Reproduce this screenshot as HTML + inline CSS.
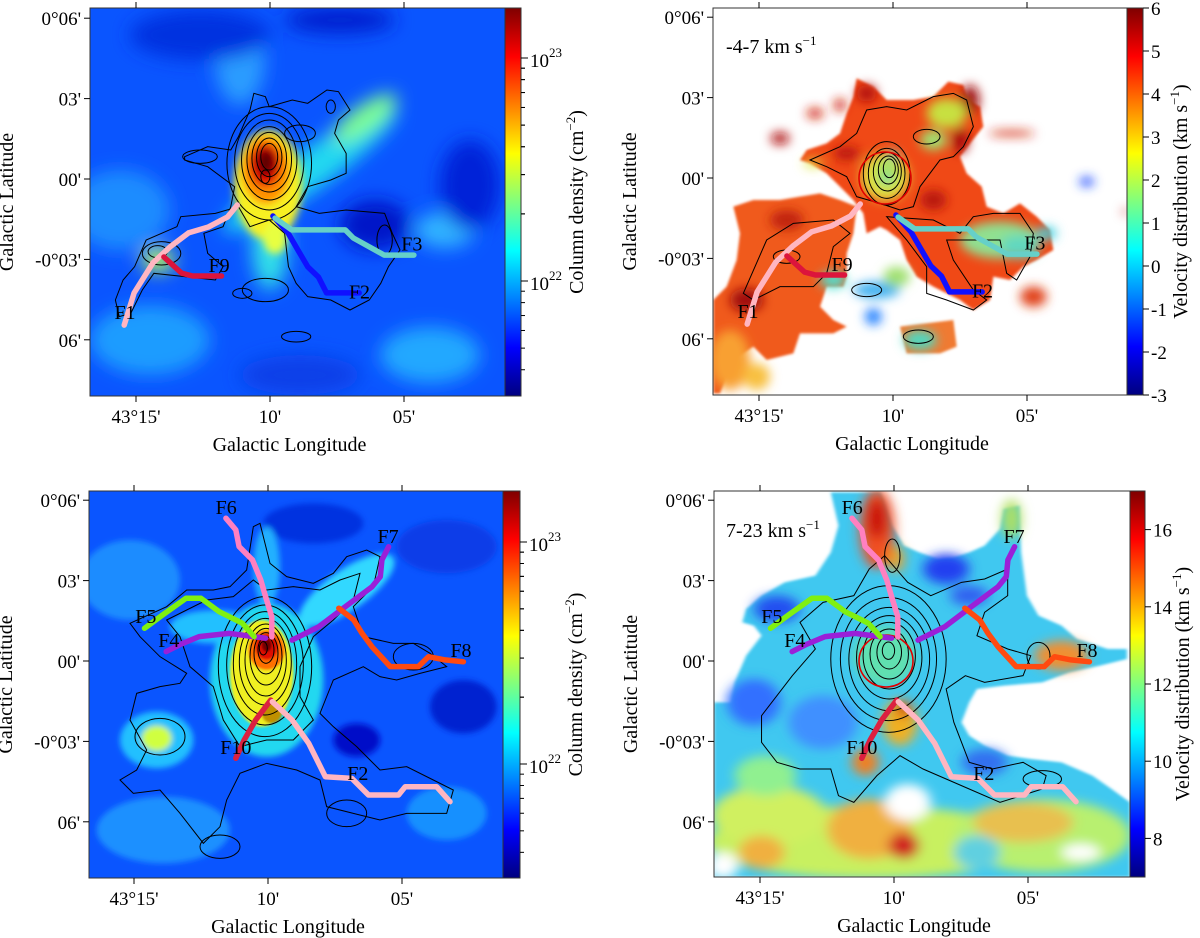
<!DOCTYPE html>
<html><head><meta charset="utf-8">
<style>
html,body{margin:0;padding:0;background:#fff;}
svg{display:block;font-family:"Liberation Serif","DejaVu Serif",serif;}
</style></head>
<body>
<svg id="fig" width="1200" height="938" viewBox="0 0 1200 938" xmlns="http://www.w3.org/2000/svg">
<defs>
  <linearGradient id="jet" x1="0" y1="1" x2="0" y2="0">
    <stop offset="0" stop-color="#00007f"/><stop offset="0.125" stop-color="#0000ff"/>
    <stop offset="0.375" stop-color="#00ffff"/><stop offset="0.5" stop-color="#7fff7f"/>
    <stop offset="0.625" stop-color="#ffff00"/><stop offset="0.875" stop-color="#ff0000"/>
    <stop offset="1" stop-color="#7f0000"/>
  </linearGradient>
  <filter id="blurA" x="-50%" y="-50%" width="200%" height="200%"><feGaussianBlur stdDeviation="9"/></filter>
  <filter id="blurB" x="-50%" y="-50%" width="200%" height="200%"><feGaussianBlur stdDeviation="4"/></filter>
  <filter id="blurC" x="-50%" y="-50%" width="200%" height="200%"><feGaussianBlur stdDeviation="4"/></filter>
  <filter id="blurD" x="-50%" y="-50%" width="200%" height="200%"><feGaussianBlur stdDeviation="16"/></filter>
  <clipPath id="c1"><rect x="90" y="8" width="415" height="388"/></clipPath>
  <clipPath id="c2"><rect x="713" y="8" width="414" height="387"/></clipPath>
  <clipPath id="c3"><rect x="89" y="491" width="414" height="387"/></clipPath>
  <clipPath id="c4"><rect x="714" y="491" width="416" height="386"/></clipPath>
</defs>

<g clip-path="url(#c1)">
  <rect x="90" y="8" width="415" height="388" fill="#0a55ff"/>
  <g filter="url(#blurA)">
    <ellipse cx="240" cy="60" rx="25" ry="45" fill="#2a9cff"/>
    <ellipse cx="120" cy="210" rx="50" ry="40" fill="#1e8cff"/>
    <ellipse cx="150" cy="340" rx="60" ry="35" fill="#1a9cff"/>
    <ellipse cx="430" cy="355" rx="50" ry="28" fill="#22a8ff"/>
    <ellipse cx="445" cy="230" rx="30" ry="18" fill="#30b4ff"/>
    <ellipse cx="375" cy="225" rx="35" ry="25" fill="#0018c8"/>
    <ellipse cx="470" cy="185" rx="30" ry="45" fill="#0020d8"/>
    <ellipse cx="200" cy="35" rx="70" ry="25" fill="#0030e0"/>
    <ellipse cx="340" cy="20" rx="55" ry="14" fill="#0020d0"/>
    <ellipse cx="300" cy="375" rx="60" ry="20" fill="#0a40e8"/>
    <ellipse cx="310" cy="170" rx="105" ry="20" fill="#20d8f0" transform="rotate(-35 310 170)"/>
    <ellipse cx="365" cy="118" rx="38" ry="13" fill="#80ff90" transform="rotate(-35 365 118)"/>
    <ellipse cx="270" cy="245" rx="18" ry="45" fill="#30e0e8"/>
    <ellipse cx="158" cy="260" rx="16" ry="12" fill="#c0ff50"/>
  </g>
  <g filter="url(#blurB)">
    <ellipse cx="268" cy="185" rx="34" ry="55" fill="#f8f020"/>
    <ellipse cx="275" cy="238" rx="12" ry="16" fill="#e8ff40"/>
    <ellipse cx="266" cy="170" rx="24" ry="34" fill="#ff9000"/>
    <ellipse cx="265" cy="165" rx="16" ry="22" fill="#e01000"/>
    <ellipse cx="266" cy="162" rx="9" ry="13" fill="#600000"/>
  </g>
</g>

<g clip-path="url(#c2)">
  <rect x="713" y="8" width="414" height="387" fill="#ffffff"/>
  <g transform="translate(700,0) scale(0.3333333)">
    <g filter="url(#blurC)">
    <path d="M470,235 L520,260 L560,300 L640,300 L700,290 L745,245 L790,255 L805,300 L840,320 L850,380 L810,430 L780,470 L800,520 L845,560 L860,620 L910,640 L960,610 L1010,650 L1050,690 L1060,750 L1010,780 L970,800 L930,840 L880,830 L870,900 L820,930 L780,900 L740,880 L700,860 L650,830 L620,780 L600,720 L560,690 L540,680 L500,700 L490,640 L460,600 L420,560 L380,520 L330,490 L300,480 L320,450 L380,430 L420,400 L440,340 L460,290 Z" fill="#f04a16"/>
    <path d="M100,620 L160,600 L240,600 L300,590 L360,580 L420,600 L470,620 L460,700 L440,760 L440,830 L430,860 L380,860 L360,920 L400,960 L440,980 L400,1000 L300,1000 L280,1060 L200,1080 L160,1040 L100,1080 L60,1180 L40,1180 L40,900 L80,860 L110,780 L120,700 Z" fill="#f05a1c"/>
    <path d="M600,980 L760,960 L770,1040 L720,1060 L620,1060 Z" fill="#f07a30"/>
    </g>
    <g filter="url(#blurD)">
    <ellipse cx="240" cy="415" rx="28" ry="18" fill="#b01010"/>
    <ellipse cx="345" cy="340" rx="25" ry="15" fill="#d02010"/>
    <ellipse cx="420" cy="315" rx="18" ry="18" fill="#d02010"/>
    <ellipse cx="935" cy="400" rx="70" ry="8" fill="#d02010"/>
    <ellipse cx="810" cy="300" rx="28" ry="45" fill="#a01010"/>
    <ellipse cx="780" cy="420" rx="25" ry="40" fill="#a81010"/>
    <ellipse cx="500" cy="280" rx="30" ry="25" fill="#b01010"/>
    <ellipse cx="440" cy="460" rx="40" ry="20" fill="#b81810"/>
    <ellipse cx="700" cy="600" rx="40" ry="30" fill="#b81810"/>
    <ellipse cx="260" cy="660" rx="50" ry="30" fill="#c02010"/>
    <ellipse cx="140" cy="900" rx="50" ry="35" fill="#a01010"/>
    <ellipse cx="1010" cy="890" rx="25" ry="20" fill="#a01010"/>
    <ellipse cx="1000" cy="890" rx="40" ry="30" fill="#e04018"/>
    <ellipse cx="90" cy="1080" rx="60" ry="90" fill="#f8a030"/>
    <ellipse cx="740" cy="340" rx="60" ry="45" fill="#c8e040"/>
    <ellipse cx="700" cy="420" rx="40" ry="30" fill="#a0e070"/>
    <ellipse cx="555" cy="530" rx="72" ry="72" fill="#e0e040"/>
    <ellipse cx="560" cy="520" rx="35" ry="45" fill="#a8e060"/>
    <ellipse cx="580" cy="465" rx="14" ry="14" fill="#50e0d0"/>
    <ellipse cx="560" cy="535" rx="14" ry="12" fill="#60e0c0"/>
    <ellipse cx="340" cy="490" rx="30" ry="12" fill="#e0e840"/>
    <ellipse cx="900" cy="720" rx="120" ry="55" fill="#90e090"/>
    <ellipse cx="960" cy="740" rx="60" ry="35" fill="#60d8c0"/>
    <ellipse cx="1040" cy="700" rx="30" ry="20" fill="#40d0e0"/>
    <ellipse cx="400" cy="840" rx="40" ry="25" fill="#50e0d0"/>
    <ellipse cx="530" cy="870" rx="70" ry="25" fill="#40b0f0"/>
    <ellipse cx="590" cy="830" rx="40" ry="30" fill="#a0e070"/>
    <ellipse cx="520" cy="950" rx="25" ry="25" fill="#2080ff"/>
    <ellipse cx="660" cy="1020" rx="50" ry="30" fill="#50d8c0"/>
    <ellipse cx="1160" cy="545" rx="22" ry="14" fill="#2050ff"/>
    <ellipse cx="1275" cy="635" rx="6" ry="10" fill="#c02010"/>
    <ellipse cx="170" cy="1130" rx="40" ry="40" fill="#f8c040"/>
    </g>
  </g>
</g>

<g clip-path="url(#c3)">
  <rect x="89" y="491" width="414" height="387" fill="#0a55ff"/>
  <g transform="translate(80,480) scale(0.3333333)">
    <g filter="url(#blurA)">
    <ellipse cx="150" cy="300" rx="150" ry="120" fill="#1a8cff"/>
    <ellipse cx="250" cy="1050" rx="200" ry="100" fill="#1a90ff"/>
    <ellipse cx="830" cy="780" rx="70" ry="50" fill="#0010c8"/>
    <ellipse cx="1150" cy="680" rx="100" ry="80" fill="#0020d0"/>
    <ellipse cx="1100" cy="200" rx="150" ry="80" fill="#0a3ce8"/>
    <ellipse cx="700" cy="130" rx="150" ry="60" fill="#0030e0"/>
    <ellipse cx="1100" cy="1000" rx="120" ry="80" fill="#1890ff"/>
    <ellipse cx="230" cy="780" rx="110" ry="85" fill="#20c0ff"/>
    <ellipse cx="230" cy="775" rx="45" ry="38" fill="#d0ff40"/>
    <ellipse cx="560" cy="600" rx="170" ry="230" fill="#20d8f0"/>
    <ellipse cx="800" cy="330" rx="170" ry="60" fill="#30d8ff" transform="rotate(-35 800 330)"/>
    <ellipse cx="400" cy="440" rx="130" ry="50" fill="#20c0ff"/>
    <ellipse cx="560" cy="260" rx="40" ry="120" fill="#20b0ff"/>
    </g>
    <g filter="url(#blurB)">
    <ellipse cx="545" cy="580" rx="95" ry="160" fill="#f0f020"/>
    <ellipse cx="560" cy="510" rx="55" ry="60" fill="#ff7000"/>
    <ellipse cx="560" cy="500" rx="35" ry="40" fill="#e01000"/>
    <ellipse cx="560" cy="495" rx="15" ry="20" fill="#700000"/>
    <ellipse cx="575" cy="700" rx="30" ry="30" fill="#c09000"/>
    </g>
  </g>
</g>

<g clip-path="url(#c4)">
  <rect x="714" y="491" width="416" height="386" fill="#ffffff"/>
  <g transform="translate(600,469) scale(0.3846154,0.3333333)">
    <g filter="url(#blurC)">
    <path d="M600,70 L730,70 L760,170 L790,230 L830,250 L880,270 L920,265 L960,250 L1000,230 L1040,180 L1050,120 L1090,110 L1095,250 L1110,380 L1140,440 L1200,470 L1240,510 L1320,540 L1370,540 L1370,570 L1300,590 L1220,610 L1150,640 L1050,650 L980,660 L960,700 L940,760 L960,800 L1000,830 L1060,860 L1120,870 L1200,880 L1280,920 L1330,960 L1378,1000 L1378,1224 L296,1224 L296,700 L340,700 L350,640 L380,560 L420,500 L400,470 L370,460 L380,420 L420,380 L480,340 L560,320 L600,250 L620,170 Z" fill="#40c8f0"/>
    </g>
    <g filter="url(#blurD)">
    <ellipse cx="460" cy="420" rx="60" ry="40" fill="#2050f0"/>
    <ellipse cx="900" cy="300" rx="60" ry="45" fill="#2040f0"/>
    <ellipse cx="960" cy="380" rx="50" ry="30" fill="#3060f0"/>
    <ellipse cx="400" cy="700" rx="70" ry="70" fill="#3070ff"/>
    <ellipse cx="580" cy="760" rx="90" ry="80" fill="#4090ff"/>
    <ellipse cx="1000" cy="880" rx="60" ry="40" fill="#3070f0"/>
    <ellipse cx="740" cy="560" rx="80" ry="90" fill="#60e0b0"/>
    <ellipse cx="700" cy="1120" rx="420" ry="110" fill="#c8f060"/>
    <ellipse cx="1150" cy="1100" rx="230" ry="110" fill="#b8f070"/>
    <ellipse cx="440" cy="1040" rx="150" ry="90" fill="#d0f060"/>
    <ellipse cx="700" cy="1080" rx="110" ry="90" fill="#f0b040"/>
    <ellipse cx="1100" cy="1060" rx="130" ry="60" fill="#e8c050"/>
    <ellipse cx="420" cy="1150" rx="60" ry="50" fill="#f0b040"/>
    <ellipse cx="980" cy="1150" rx="60" ry="50" fill="#60d0e0"/>
    <ellipse cx="430" cy="920" rx="80" ry="60" fill="#90f090"/>
    <ellipse cx="720" cy="180" rx="45" ry="120" fill="#f05020"/>
    <ellipse cx="720" cy="150" rx="25" ry="60" fill="#c81010"/>
    <ellipse cx="770" cy="270" rx="20" ry="40" fill="#f0a020"/>
    <ellipse cx="1200" cy="560" rx="70" ry="45" fill="#f09030"/>
    <ellipse cx="1070" cy="150" rx="25" ry="60" fill="#b0e060"/>
    <ellipse cx="780" cy="760" rx="45" ry="70" fill="#f0b020"/>
    <ellipse cx="790" cy="720" rx="20" ry="25" fill="#d04010"/>
    <ellipse cx="690" cy="880" rx="35" ry="40" fill="#f08020"/>
    <ellipse cx="790" cy="1130" rx="40" ry="40" fill="#d02020"/>
    <ellipse cx="800" cy="1000" rx="60" ry="55" fill="#ffffff"/>
    <ellipse cx="320" cy="1190" rx="40" ry="40" fill="#ffffff"/>
    <ellipse cx="1250" cy="1150" rx="50" ry="25" fill="#ffffff"/>
    </g>
  </g>
</g>

<g clip-path="url(#c1)" fill="none" stroke="#000" stroke-width="1">
 <g transform="scale(0.3846154,0.3333333)">
  <path vector-effect="non-scaling-stroke" d="M480,470 L540,440 L600,450 L620,410 L650,330 L660,280 L690,290 L700,320 L760,300 L800,310 L850,270 L880,275 L910,330 L880,360 L870,400 L900,460 L900,520 L860,540 L800,560 L770,620 L830,640 L900,630 L1000,640 L1020,700 L1040,750 L1010,800 L990,850 L960,900 L910,930 L860,900 L800,890 L770,850 L750,800 L740,700 L700,660 L650,680 L630,640 L620,620 L560,640 L470,650 L460,680 L380,720 L350,800 L320,840 L300,900 L310,950 L340,940 L370,870 L400,820 L480,830 L560,840 L580,800 L540,760 L530,700 L580,680 L600,620 L610,560 L540,500 L480,480 Z"/>
  <ellipse vector-effect="non-scaling-stroke" cx="700" cy="490" rx="110" ry="170"/>
  <ellipse vector-effect="non-scaling-stroke" cx="700" cy="485" rx="90" ry="145"/>
  <ellipse vector-effect="non-scaling-stroke" cx="700" cy="480" rx="72" ry="120"/>
  <ellipse vector-effect="non-scaling-stroke" cx="700" cy="478" rx="58" ry="98"/>
  <ellipse vector-effect="non-scaling-stroke" cx="700" cy="475" rx="45" ry="78"/>
  <ellipse vector-effect="non-scaling-stroke" cx="700" cy="472" rx="33" ry="58"/>
  <ellipse vector-effect="non-scaling-stroke" cx="700" cy="470" rx="22" ry="40"/>
  <ellipse vector-effect="non-scaling-stroke" cx="690" cy="530" rx="12" ry="20"/>
  <ellipse vector-effect="non-scaling-stroke" cx="780" cy="400" rx="40" ry="25"/>
  <ellipse vector-effect="non-scaling-stroke" cx="520" cy="470" rx="45" ry="20"/>
  <ellipse vector-effect="non-scaling-stroke" cx="420" cy="760" rx="50" ry="35"/>
  <ellipse vector-effect="non-scaling-stroke" cx="410" cy="755" rx="25" ry="18"/>
  <ellipse vector-effect="non-scaling-stroke" cx="690" cy="870" rx="60" ry="35"/>
  <ellipse vector-effect="non-scaling-stroke" cx="630" cy="880" rx="25" ry="15"/>
  <ellipse vector-effect="non-scaling-stroke" cx="770" cy="1010" rx="38" ry="16"/>
  <ellipse vector-effect="non-scaling-stroke" cx="1000" cy="720" rx="20" ry="45"/>
  <ellipse vector-effect="non-scaling-stroke" cx="860" cy="320" rx="12" ry="20"/>
 </g>
</g>
<g clip-path="url(#c2)" fill="none" stroke="#000" stroke-width="1">
 <g transform="translate(700,0) scale(0.3333333)">
  <path vector-effect="non-scaling-stroke" d="M330,480 L420,440 L470,400 L500,330 L560,320 L620,330 L700,290 L760,280 L800,300 L820,380 L790,440 L760,470 L720,480 L660,560 L640,620 L600,630 L540,610 L470,590 L440,530 L380,500 Z"/>
  <path vector-effect="non-scaling-stroke" d="M130,880 L200,720 L280,670 L400,660 L450,700 L400,740 L380,820 L340,860 L240,860 L160,900 Z"/>
  <path vector-effect="non-scaling-stroke" d="M560,650 L620,720 L680,800 L680,880 L740,900 L820,930 L860,900 L820,870 L760,780 L740,720 L900,720 L920,820 L950,840 L990,770 L1000,700 L960,640 L880,640 L820,650 L780,700 L700,660 Z"/>
  <ellipse vector-effect="non-scaling-stroke" cx="560" cy="520" rx="70" ry="95"/>
  <ellipse vector-effect="non-scaling-stroke" cx="560" cy="520" rx="55" ry="75"/>
  <ellipse vector-effect="non-scaling-stroke" cx="562" cy="515" rx="42" ry="58"/>
  <ellipse vector-effect="non-scaling-stroke" cx="565" cy="510" rx="30" ry="42"/>
  <ellipse vector-effect="non-scaling-stroke" cx="568" cy="505" rx="18" ry="28"/>
  <ellipse vector-effect="non-scaling-stroke" cx="680" cy="410" rx="40" ry="22"/>
  <ellipse vector-effect="non-scaling-stroke" cx="260" cy="770" rx="40" ry="20"/>
  <ellipse vector-effect="non-scaling-stroke" cx="655" cy="1010" rx="45" ry="20"/>
  <ellipse vector-effect="non-scaling-stroke" cx="500" cy="870" rx="45" ry="20"/>
 </g>
</g>
<g clip-path="url(#c3)" fill="none" stroke="#000" stroke-width="1">
 <g transform="translate(80,480) scale(0.3333333)">
  <path vector-effect="non-scaling-stroke" d="M150,430 L260,380 L320,330 L400,330 L450,320 L500,270 L520,140 L540,130 L570,250 L620,290 L700,310 L760,280 L800,230 L860,210 L900,230 L880,320 L820,380 L850,470 L940,490 L1000,490 L1050,520 L1100,560 L1020,580 L950,600 L900,590 L850,560 L760,600 L720,700 L760,740 L830,800 L900,870 L980,860 L1060,900 L1120,930 L1100,1000 L980,1000 L900,1020 L820,1000 L740,980 L720,900 L650,870 L560,850 L480,880 L440,960 L420,1040 L370,1090 L300,1000 L240,930 L160,940 L120,900 L170,870 L200,810 L150,720 L170,640 L240,620 L300,610 L320,580 L240,530 L180,470 Z"/>
  <path vector-effect="non-scaling-stroke" d="M260,420 L380,360 L460,350 L520,300 L560,330 L640,320 L720,330 L780,300 L840,280 L820,360 L760,420 L700,470 L660,560 L660,650 L700,720 L640,780 L560,780 L480,800 L430,720 L400,620 L330,560 L300,470 Z"/>
  <ellipse vector-effect="non-scaling-stroke" cx="555" cy="560" rx="140" ry="210"/>
  <ellipse vector-effect="non-scaling-stroke" cx="555" cy="555" rx="115" ry="180"/>
  <ellipse vector-effect="non-scaling-stroke" cx="555" cy="550" rx="95" ry="155"/>
  <ellipse vector-effect="non-scaling-stroke" cx="556" cy="545" rx="78" ry="130"/>
  <ellipse vector-effect="non-scaling-stroke" cx="557" cy="540" rx="62" ry="108"/>
  <ellipse vector-effect="non-scaling-stroke" cx="558" cy="530" rx="48" ry="85"/>
  <ellipse vector-effect="non-scaling-stroke" cx="558" cy="520" rx="36" ry="62"/>
  <ellipse vector-effect="non-scaling-stroke" cx="558" cy="510" rx="24" ry="40"/>
  <ellipse vector-effect="non-scaling-stroke" cx="550" cy="505" rx="12" ry="20"/>
  <ellipse vector-effect="non-scaling-stroke" cx="240" cy="770" rx="75" ry="55"/>
  <ellipse vector-effect="non-scaling-stroke" cx="1000" cy="530" rx="60" ry="40"/>
  <ellipse vector-effect="non-scaling-stroke" cx="800" cy="1000" rx="60" ry="40"/>
  <ellipse vector-effect="non-scaling-stroke" cx="420" cy="1100" rx="60" ry="35"/>
 </g>
</g>
<g clip-path="url(#c4)" fill="none" stroke="#000" stroke-width="1">
 <g transform="translate(600,469) scale(0.3846154,0.3333333)">
  <path vector-effect="non-scaling-stroke" d="M420,740 L500,620 L560,540 L520,460 L580,400 L660,380 L700,300 L740,260 L800,340 L860,380 L940,340 L1000,330 L1060,300 L1060,380 L1000,430 L980,500 L1060,540 L1120,560 L1100,620 L1000,640 L950,620 L900,660 L920,760 L960,880 L1020,900 L1100,880 L1160,920 L1150,960 L1040,1000 L960,960 L900,930 L840,900 L780,860 L720,920 L660,1000 L620,980 L600,900 L520,900 L460,880 L420,820 Z"/>
  <ellipse vector-effect="non-scaling-stroke" cx="750" cy="570" rx="150" ry="220"/>
  <ellipse vector-effect="non-scaling-stroke" cx="750" cy="570" rx="125" ry="185"/>
  <ellipse vector-effect="non-scaling-stroke" cx="752" cy="570" rx="105" ry="155"/>
  <ellipse vector-effect="non-scaling-stroke" cx="752" cy="565" rx="85" ry="125"/>
  <ellipse vector-effect="non-scaling-stroke" cx="752" cy="560" rx="68" ry="100"/>
  <ellipse vector-effect="non-scaling-stroke" cx="752" cy="555" rx="50" ry="75"/>
  <ellipse vector-effect="non-scaling-stroke" cx="752" cy="550" rx="32" ry="50"/>
  <ellipse vector-effect="non-scaling-stroke" cx="750" cy="545" rx="16" ry="26"/>
  <ellipse vector-effect="non-scaling-stroke" cx="1140" cy="560" rx="30" ry="40"/>
  <ellipse vector-effect="non-scaling-stroke" cx="1150" cy="930" rx="50" ry="25"/>
  <ellipse vector-effect="non-scaling-stroke" cx="760" cy="260" rx="20" ry="50"/>
 </g>
</g>

<circle cx="885" cy="178" r="26" fill="none" stroke="#e00000" stroke-width="1.6"/>
<ellipse cx="886" cy="661" rx="27" ry="26" fill="none" stroke="#e00000" stroke-width="1.6"/>

<g id="marks"></g>
<g id="axes"></g>

<text x="726" y="53" font-size="20">-4-7 km s<tspan font-size="13" dy="-8">−1</tspan></text>
<text x="726" y="537" font-size="20">7-23 km s<tspan font-size="13" dy="-8">−1</tspan></text>
</svg>

<script>
const F1  = [[15.44,-5.45],[15.07,-4.25],[14.37,-3.13],[13.74,-2.54],[13.04,-2.01],[12.30,-1.79],[11.59,-1.42],[11.22,-0.97]];
const F9  = [[13.96,-2.91],[13.30,-3.51],[12.89,-3.62],[11.81,-3.62]];
const F2a = [[9.89,-1.38],[9.33,-2.01],[8.96,-2.65],[8.59,-3.28],[8.19,-3.66],[7.89,-4.25],[6.67,-4.25]];
const F3  = [[9.81,-1.46],[9.19,-1.90],[7.19,-1.90],[6.89,-2.20],[5.74,-2.84],[4.63,-2.84]];
const F6  = [[11.57,5.33],[11.20,4.89],[11.08,4.27],[10.58,3.77],[10.27,3.02],[10.09,2.40],[9.86,1.65],[9.86,0.90]];
const F7  = [[9.10,0.78],[8.10,1.28],[7.11,2.03],[6.12,2.77],[5.81,3.15],[5.75,3.77],[5.50,4.26]];
const F4  = [[13.80,0.35],[13.31,0.60],[12.57,0.91],[11.45,1.03],[10.09,0.85]];
const F5  = [[14.61,1.22],[13.93,1.72],[13.06,2.34],[12.50,2.34],[11.82,1.84],[10.96,1.41],[10.52,0.91]];
const F8  = [[7.36,1.97],[6.80,1.53],[6.49,1.03],[6.12,0.53],[5.44,-0.21],[4.39,-0.21],[4.01,0.16],[3.39,0.04],[2.71,-0.03]];
const F10 = [[9.90,-1.46],[10.46,-2.20],[10.89,-2.95],[11.20,-3.63]];
const F2b = [[9.84,-1.52],[9.10,-2.20],[8.48,-3.07],[7.86,-4.32],[6.87,-4.38],[6.25,-5.00],[5.13,-5.00],[4.88,-4.69],[3.71,-4.69],[3.21,-5.25]];
const topLabels    = [["F1",15.41,-4.96],["F9",11.9,-3.2],["F2",6.66,-4.2],["F3",4.71,-2.4]];
const bottomLabels = [["F6",11.56,5.75],["F7",5.52,4.66],["F5",14.56,1.68],["F4",13.7,0.78],["F8",2.8,0.41],["F10",11.2,-3.2],["F2",6.65,-4.18]];
const xTickVals = [15,10,5];
const xTickLabels = ["43°15'","10'","05'"];
const yTickVals = [6,3,0,-3,-6];
const yTickLabels = ["0°06'","03'","00'","-0°03'","06'"];
const cdMajor = [22,23];
const cdMinorMult = [2,3,4,5,6,7,8,9];
const velTopTicks = [6,5,4,3,2,1,0,-1,-2,-3];
const velBotTicks = [8,10,12,14,16];

const NS="http://www.w3.org/2000/svg";
const marks=document.getElementById('marks');
const axes=document.getElementById('axes');
function mk(tag,attrs,parent){const e=document.createElementNS(NS,tag);for(const k in attrs)e.setAttribute(k,attrs[k]);(parent||axes).appendChild(e);return e;}

const PPA=26.8;
const panels=[
 {id:'p1',x0:90,x1:505,y0:8,y1:396,l15:136,b0:179,cb1:521,cb:'cd',cdTop:58,cdBot:281},
 {id:'p2',x0:713,x1:1127,y0:8,y1:395,l15:759,b0:178,cb1:1143,cb:'velTop'},
 {id:'p3',x0:89,x1:503,y0:491,y1:878,l15:134,b0:661,cb1:520,cb:'cd',cdTop:542,cdBot:764},
 {id:'p4',x0:714,x1:1130,y0:491,y1:877,l15:760,b0:661,cb1:1145,cb:'velBot'}
];
function xS(p,l){return p.l15-(l-15)*PPA;}
function yS(p,b){return p.b0-b*PPA;}

function drawFil(p,data,color,name){
  const pts=data.map(d=>xS(p,d[0]).toFixed(1)+','+yS(p,d[1]).toFixed(1)).join(' ');
  const pl=mk('polyline',{points:pts,fill:'none',stroke:color,'stroke-width':5.5,'stroke-linejoin':'round','stroke-linecap':'round'},marks);
  
  
}
function drawLabels(p,arr,prefix){
  arr.forEach(a=>{
    const t=mk('text',{x:xS(p,a[1]).toFixed(1),y:(yS(p,a[2])+7).toFixed(1),'font-size':20,'text-anchor':'middle',fill:'#000'},marks);
    t.textContent=a[0];
    
    
  });
}
[panels[0],panels[1]].forEach(p=>{
  drawFil(p,F1,'#ffb6c1',p.id+'-filament-f1');
  drawFil(p,F9,'#dc143c',p.id+'-filament-f9');
  drawFil(p,F2a,'#1010ff',p.id+'-filament-f2');
  drawFil(p,F3,'#66d0c8',p.id+'-filament-f3');
  drawLabels(p,topLabels,p.id);
});
[panels[2],panels[3]].forEach(p=>{
  drawFil(p,F6,'#ff80c0',p.id+'-filament-f6');
  drawFil(p,F7,'#9a20d8',p.id+'-filament-f7');
  drawFil(p,F4,'#9a20d8',p.id+'-filament-f4');
  drawFil(p,F5,'#80f010',p.id+'-filament-f5');
  drawFil(p,F8,'#ff4a10',p.id+'-filament-f8');
  drawFil(p,F10,'#dc2040',p.id+'-filament-f10');
  drawFil(p,F2b,'#ffb6c1',p.id+'-filament-f2');
  drawLabels(p,bottomLabels,p.id);
});

panels.forEach(p=>{
  const fr=mk('rect',{x:p.x0,y:p.y0,width:p.x1-p.x0,height:p.y1-p.y0,fill:'none',stroke:'#333','stroke-width':1});
  
  
  xTickVals.forEach((v,i)=>{
    const x=xS(p,v);
    mk('line',{x1:x,y1:p.y1,x2:x,y2:p.y1+6,stroke:'#000','stroke-width':1});
    mk('line',{x1:x,y1:p.y0,x2:x,y2:p.y0-6,stroke:'#000','stroke-width':1});
    const t=mk('text',{x:x,y:p.y1+27,'font-size':19,'text-anchor':'middle'});
    t.textContent=xTickLabels[i];
    
    
  });
  yTickVals.forEach((v,i)=>{
    const y=yS(p,v);
    mk('line',{x1:p.x0,y1:y,x2:p.x0-6,y2:y,stroke:'#000','stroke-width':1});
    const t=mk('text',{x:p.x0-9,y:y+7,'font-size':19,'text-anchor':'end'});
    t.textContent=yTickLabels[i];
    
    
  });
  const xt=mk('text',{x:(p.x0+p.x1)/2-8,y:p.y1+55,'font-size':20,'text-anchor':'middle'});
  xt.textContent='Galactic Longitude';
  
  
  const yc=(p.y0+p.y1)/2;
  const yx=p.x0-77;
  const yt=mk('text',{x:yx,y:yc,'font-size':20,'text-anchor':'middle',transform:`rotate(-90 ${yx} ${yc})`});
  yt.textContent='Galactic Latitude';
  
  
  const cbx=p.x1;
  const cb=mk('rect',{x:cbx,y:p.y0,width:p.cb1-cbx,height:p.y1-p.y0,fill:'url(#jet)',stroke:'#333','stroke-width':1});
  
  
  const tx=p.cb1;
  if(p.cb==='cd'){
    const per=(p.cdBot-p.cdTop);
    const yL=lg=>p.cdBot-(lg-22)*per;
    cdMajor.forEach(m=>{
      const y=yL(m);
      mk('line',{x1:tx,y1:y,x2:tx+7,y2:y,stroke:'#000'});
      const t=mk('text',{x:tx+9,y:y+9,'font-size':19});
      t.textContent='10';
      const s=mk('tspan',{'font-size':13,dy:-10},t);
      s.textContent=String(m);
      
      
      cdMinorMult.forEach(k=>{
        const yy=yL(m+Math.log10(k));
        const yy2=yL(m-1+Math.log10(k));
        [yy,yy2].forEach(q=>{ if(q>p.y0&&q<p.y1) mk('line',{x1:tx,y1:q,x2:tx+4,y2:q,stroke:'#000'}); });
      });
    });
    const lx=tx+62, ly=yc;
    const t=mk('text',{x:lx,y:ly,'font-size':20,'text-anchor':'middle',transform:`rotate(-90 ${lx} ${ly})`});
    t.textContent='Column density (cm';
    const s=mk('tspan',{'font-size':13,dy:-8},t); s.textContent='−2';
    const s2=mk('tspan',{dy:8},t); s2.textContent=')';
    
    
  } else {
    const vals = p.cb==='velTop'?velTopTicks:velBotTicks;
    const vmax = p.cb==='velTop'?6:17, vmin=p.cb==='velTop'?-3:7;
    vals.forEach(v=>{
      const y=p.y1-(v-vmin)/(vmax-vmin)*(p.y1-p.y0);
      mk('line',{x1:tx,y1:y,x2:tx+6,y2:y,stroke:'#000'});
      const t=mk('text',{x:tx+8,y:y+7,'font-size':19});
      t.textContent=String(v);
      
      
    });
    const lx=tx+44, ly=yc;
    const t=mk('text',{x:lx,y:ly,'font-size':20,'text-anchor':'middle',transform:`rotate(-90 ${lx} ${ly})`});
    t.textContent='Velocity distribution (km s';
    const s=mk('tspan',{'font-size':13,dy:-8},t); s.textContent='−1';
    const s2=mk('tspan',{dy:8},t); s2.textContent=')';
    
    
  }
});
</script>
</body></html>
